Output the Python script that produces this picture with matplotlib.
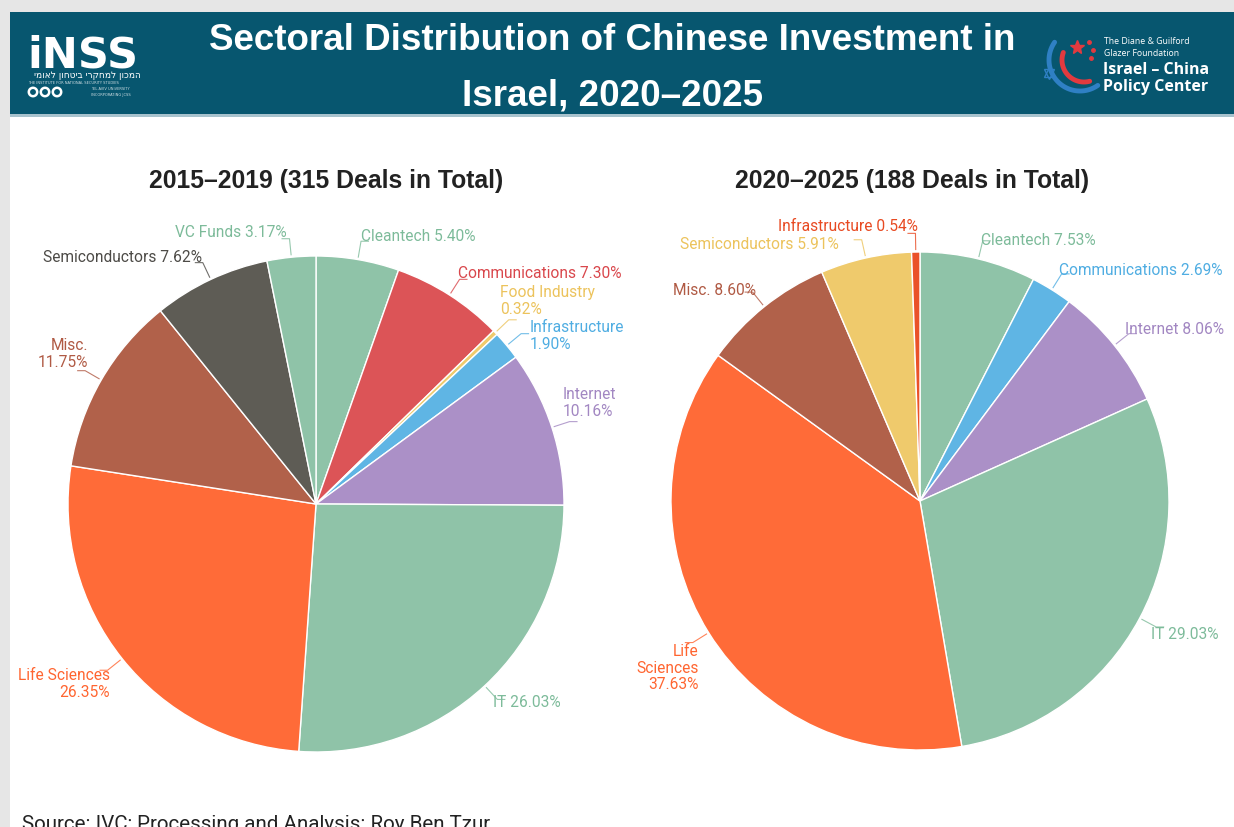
import matplotlib
matplotlib.use("Agg")
import matplotlib.pyplot as plt
import numpy as np
from matplotlib.patches import Rectangle, Circle

W, H = 1234, 827

# ---- data -------------------------------------------------------------
sectors_a = ["Cleantech", "Communications", "Food Industry", "Infrastructure",
             "Internet", "IT", "Life Sciences", "Misc.", "Semiconductors", "VC Funds"]
shares_a = [5.40, 7.30, 0.32, 1.90, 10.16, 26.03, 26.35, 11.75, 7.62, 3.17]
title_a = "2015–2019 (315 Deals in Total)"

sectors_b = ["Cleantech", "Communications", "Internet", "IT", "Life Sciences",
             "Misc.", "Semiconductors", "Infrastructure"]
shares_b = [7.53, 2.69, 8.06, 29.03, 37.63, 8.60, 5.91, 0.54]
title_b = "2020–2025 (188 Deals in Total)"

title_line1 = "Sectoral Distribution of Chinese Investment in"
title_line2 = "Israel, 2020–2025"
source_note = "Source: IVC; Processing and Analysis: Roy Ben Tzur"

# ---- styling ----------------------------------------------------------
GREEN = "#8fc3a8"
RED = "#dc5457"
YELLOW = "#efca6c"
BLUE = "#5fb5e4"
PURPLE = "#ab90c7"
ORANGE = "#ff6b38"
BROWN = "#b1614a"
DARK = "#5e5c55"
VERMILION = "#ea5129"

colors_a = {"Cleantech": GREEN, "Communications": RED, "Food Industry": YELLOW,
            "Infrastructure": BLUE, "Internet": PURPLE, "IT": GREEN,
            "Life Sciences": ORANGE, "Misc.": BROWN, "Semiconductors": DARK,
            "VC Funds": GREEN}
colors_b = {"Cleantech": GREEN, "Communications": BLUE, "Internet": PURPLE,
            "IT": GREEN, "Life Sciences": ORANGE, "Misc.": BROWN,
            "Semiconductors": YELLOW, "Infrastructure": VERMILION}
text_colors = {GREEN: "#7dbb9a", DARK: "#4d4b47", YELLOW: "#ecc35c",
               RED: "#d9474c", BLUE: "#4fade2", PURPLE: "#a287c2",
               ORANGE: "#ff6530", BROWN: "#b05a44", VERMILION: "#e84a22"}

# label placement (pie units, ha, format)
layout_a = {
    "Cleantech":      (0.411, 1.077, "center", "{n} {p}"),
    "Communications": (0.903, 0.931, "center", "{n} {p}"),
    "Food Industry":  (0.742, 0.819, "left", "{n}\n{p}"),
    "Infrastructure": (0.863, 0.677, "left", "{n}\n{p}"),
    "Internet":       (0.996, 0.407, "left", "{n}\n{p}"),
    "IT":             (0.851, -0.802, "center", "{n} {p}"),
    "Life Sciences":  (-0.831, -0.726, "right", "{n}\n{p}"),
    "Misc.":          (-0.919, 0.605, "right", "{n}\n{p}"),
    "Semiconductors": (-0.782, 0.992, "center", "{n} {p}"),
    "VC Funds":       (-0.343, 1.093, "center", "{n} {p}"),
}
layout_b = {
    "Cleantech":      (0.245, 1.048, "left", "{n} {p}"),
    "Communications": (0.558, 0.924, "left", "{n} {p}"),
    "Internet":       (0.823, 0.687, "left", "{n} {p}"),
    "IT":             (0.928, -0.538, "left", "{n} {p}"),
    "Life Sciences":  (-0.888, -0.671, "right", "{w}\n{p}"),
    "Misc.":          (-0.827, 0.847, "center", "{n} {p}"),
    "Semiconductors": (-0.647, 1.032, "center", "{n} {p}"),
    "Infrastructure": (-0.289, 1.104, "center", "{n} {p}"),
}

fig = plt.figure(figsize=(W / 100, H / 100), dpi=100)
fig.patch.set_facecolor("#e6e6e6")

# ---- background panel and header (pixel coordinates) -----------------
bg = fig.add_axes([0, 0, 1, 1])
bg.set_xlim(0, W)
bg.set_ylim(H, 0)
bg.axis("off")
bg.add_patch(Rectangle((10, 115), W - 10, H - 115, facecolor="white", edgecolor="none"))
bg.add_patch(Rectangle((10, 12), W - 10, 103, facecolor="#07566f", edgecolor="none"))
bg.add_patch(Rectangle((10, 114), W - 10, 3, facecolor="#a7c2cd", edgecolor="none"))

bg.text(612, 40, title_line1, color="white", fontsize=26.5, fontweight="bold",
        ha="center", va="center", family="Liberation Sans")
bg.text(612, 96, title_line2, color="white", fontsize=26.5, fontweight="bold",
        ha="center", va="center", family="Liberation Sans")

# INSS logo
bg.text(27, 67, "iNSS", color="white", fontsize=31, fontweight="bold",
        ha="left", va="baseline", family="DejaVu Sans")
bg.text(141, 76, "המכון למחקרי ביטחון לאומי"[::-1], color="white", fontsize=6.5,
        ha="right", va="center", family="DejaVu Sans")
bg.text(28, 83, "THE INSTITUTE FOR NATIONAL SECURITY STUDIES", color="white",
        fontsize=2.6, ha="left", va="center", alpha=0.8)
for cx in (33, 45, 57):
    bg.add_patch(Circle((cx, 92), 4.2, facecolor="none", edgecolor="white", lw=1.8))
bg.text(91, 89, "TEL AVIV UNIVERSITY", color="white", fontsize=2.6, ha="left", va="center", alpha=0.8)
bg.text(91, 95, "INCORPORATING JCSS", color="white", fontsize=2.6, ha="left", va="center", alpha=0.8)

# Israel-China Policy Center logo
t = np.radians(np.linspace(55, 215, 60))
bg.plot(1080 + 31 * np.cos(t), 60 + 31 * np.sin(t), color="#2f80c4", lw=3.5,
        solid_capstyle="round")
t = np.radians(np.linspace(75, 200, 60))
bg.plot(1084 + 22 * np.cos(t), 60 + 22 * np.sin(t), color="#e23a3f", lw=3.5,
        solid_capstyle="round")
bg.plot([1077], [47], marker="*", color="#e23a3f", markersize=10, ls="none")
bg.plot([1089, 1093, 1091], [42, 50, 58], marker="o", color="#e23a3f",
        markersize=2.5, ls="none")
bg.plot([1049], [72], marker="^", mfc="none", mec="#2f80c4", markersize=7, ls="none")
bg.plot([1049], [74], marker="v", mfc="none", mec="#2f80c4", markersize=7, ls="none")
bg.text(1104, 42, "The Diane & Guilford", color="white", fontsize=6.3,
        ha="left", va="center", family="Open Sans")
bg.text(1104, 53, "Glazer Foundation", color="white", fontsize=6.3,
        ha="left", va="center", family="Open Sans")
bg.text(1103, 70, "Israel – China", color="white", fontsize=11.5, fontweight="bold",
        ha="left", va="center", family="Open Sans")
bg.text(1103, 87, "Policy Center", color="white", fontsize=11.5, fontweight="bold",
        ha="left", va="center", family="Open Sans")

# source line
bg.text(22, 830, source_note, color="#222222", fontsize=14.8, ha="left",
        va="baseline", family="Roboto")


def draw_pie(cx, cy, R, sectors, shares, colors, layout, title, title_x, title_y):
    ax = fig.add_axes([0, 0, 1, 1])
    ax.patch.set_alpha(0)
    cols = [colors[s] for s in sectors]
    wedges, _ = ax.pie(shares, colors=cols, startangle=90, counterclock=False,
                       wedgeprops=dict(edgecolor="white", linewidth=1.0))
    ax.set_xlim((0 - cx) / R, (W - cx) / R)
    ax.set_ylim((cy - H) / R, cy / R)
    ax.set_aspect("auto")
    ax.axis("off")

    for w, name, val in zip(wedges, sectors, shares):
        mid = np.radians((w.theta1 + w.theta2) / 2)
        u = np.array([np.cos(mid), np.sin(mid)])
        tx, ty, ha, fmt = layout[name]
        col = text_colors[colors[name]]
        p0 = 1.01 * u
        p1 = 1.075 * u
        p2 = p1 + np.array([0.03 * np.sign(u[0]), 0.0])
        ax.plot([p0[0], p1[0], p2[0]], [p0[1], p1[1], p2[1]], color=col,
                lw=0.8, alpha=0.8, clip_on=False)
        label = fmt.format(n=name, w=name.replace(" ", "\n"), p=f"{val:.2f}%")
        ax.text(tx, ty, label, color=col, ha=ha, va="center", fontsize=11.2,
                family="Roboto", linespacing=1.15, clip_on=False)

    bg.text(title_x, title_y, title, color="#222222", fontsize=17.8,
            fontweight="bold", ha="center", va="center", family="Liberation Sans")


draw_pie(316, 504, 248, sectors_a, shares_a, colors_a, layout_a, title_a, 326, 181)
draw_pie(920, 501, 249, sectors_b, shares_b, colors_b, layout_b, title_b, 912, 181)

fig.savefig("out.png", dpi=100, facecolor=fig.get_facecolor())
